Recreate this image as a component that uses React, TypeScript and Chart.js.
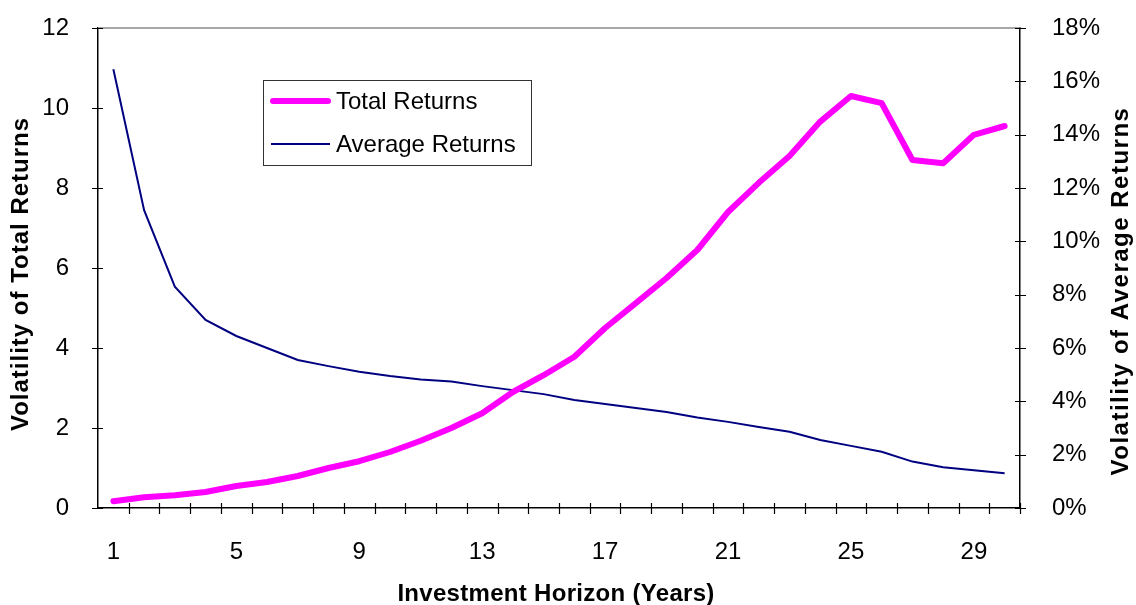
import React, { useEffect, useRef } from "react";
import { Chart, registerables } from "chart.js";

Chart.register(...registerables);

const horizons: string[] = Array.from({ length: 30 }, (_, i) => String(i + 1));

const totalReturns: number[] = [
  0.17, 0.27, 0.32, 0.4, 0.55, 0.65, 0.8, 1.0, 1.17, 1.4,
  1.68, 2.0, 2.37, 2.9, 3.32, 3.78, 4.5, 5.12, 5.75, 6.45,
  7.4, 8.13, 8.8, 9.66, 10.3, 10.12, 8.7, 8.62, 9.33, 9.55,
];

const averageReturns: number[] = [
  16.45, 11.17, 8.3, 7.05, 6.45, 6.0, 5.55, 5.32, 5.11, 4.95,
  4.82, 4.74, 4.57, 4.42, 4.27, 4.05, 3.9, 3.75, 3.6, 3.39,
  3.23, 3.04, 2.86, 2.55, 2.33, 2.11, 1.74, 1.53, 1.42, 1.3,
];

const seriesNames: string[] = ["Total Returns", "Average Returns"];
const leftTitle = "Volatility of Total Returns";
const rightTitle = "Volatility of Average Returns";
const bottomTitle = "Investment Horizon (Years)";

const FONT = "Arial, 'Liberation Sans', sans-serif";

const decorPlugin = {
  id: "decor",
  afterDraw(chart: any) {
    const ctx = chart.ctx;
    const ca = chart.chartArea;
    const xs = chart.scales.x;
    const yl = chart.scales.y;
    const yr = chart.scales.y1;
    ctx.save();
    // top border of plot area
    ctx.strokeStyle = "#8a8a8a";
    ctx.lineWidth = 1.5;
    ctx.beginPath();
    ctx.moveTo(ca.left, ca.top);
    ctx.lineTo(ca.right, ca.top);
    ctx.stroke();

    // crossing tick marks
    ctx.strokeStyle = "#000";
    ctx.lineWidth = 1.2;
    ctx.beginPath();
    const n = horizons.length;
    const step = (xs.right - xs.left) / n;
    for (let i = 1; i <= n; i++) {
      const px = Math.round(xs.left + i * step) + 0.5;
      ctx.moveTo(px, ca.bottom - 5);
      ctx.lineTo(px, ca.bottom + 6);
    }
    yl.ticks.forEach((t: any) => {
      const py = Math.round(yl.getPixelForValue(t.value)) + 0.5;
      ctx.moveTo(ca.left - 6, py);
      ctx.lineTo(ca.left + 5, py);
    });
    yr.ticks.forEach((t: any) => {
      const py = Math.round(yr.getPixelForValue(t.value)) + 0.5;
      ctx.moveTo(ca.right - 5, py);
      ctx.lineTo(ca.right + 6, py);
    });
    ctx.stroke();

    // axis titles
    ctx.fillStyle = "#000";
    ctx.font = `bold 24px ${FONT}`;
    ctx.textAlign = "center";
    ctx.textBaseline = "middle";
    ctx.save();
    ctx.letterSpacing = "1px";
    ctx.translate(21, 274);
    ctx.rotate(-Math.PI / 2);
    ctx.fillText(leftTitle, 0, 0);
    ctx.restore();
    ctx.save();
    ctx.letterSpacing = "1.5px";
    ctx.translate(1121, 291);
    ctx.rotate(-Math.PI / 2);
    ctx.fillText(rightTitle, 0, 0);
    ctx.restore();
    ctx.save();
    ctx.letterSpacing = "0.3px";
    ctx.fillText(bottomTitle, 556, 594);
    ctx.restore();

    // legend
    const bx = 263, by = 80, bw = 268, bh = 85;
    ctx.fillStyle = "#fff";
    ctx.fillRect(bx, by, bw, bh);
    ctx.strokeStyle = "#333";
    ctx.lineWidth = 1;
    ctx.strokeRect(bx + 0.5, by + 0.5, bw, bh);
    const rows = [101, 144];
    chart.data.datasets.forEach((ds: any, i: number) => {
      const y = rows[i];
      ctx.strokeStyle = ds.borderColor;
      ctx.lineWidth = ds.borderWidth;
      ctx.lineCap = i === 0 ? "round" : "butt";
      ctx.beginPath();
      ctx.moveTo(i === 0 ? 273 : 271, y);
      ctx.lineTo(i === 0 ? 328 : 330, y);
      ctx.stroke();
      ctx.fillStyle = "#000";
      ctx.font = `24px ${FONT}`;
      ctx.textAlign = "left";
      ctx.textBaseline = "middle";
      ctx.fillText(ds.label, 336, y + 1);
    });
    ctx.restore();
  },
};

export default function App() {
  const ref = useRef<HTMLCanvasElement | null>(null);
  useEffect(() => {
    if (!ref.current) return;
    const chart = new Chart(ref.current, {
      type: "line",
      data: {
        labels: horizons,
        datasets: [
          {
            label: seriesNames[0],
            data: totalReturns,
            borderColor: "#FF00FF",
            backgroundColor: "#FF00FF",
            borderWidth: 6,
            borderCapStyle: "round",
            borderJoinStyle: "round",
            pointRadius: 0,
            tension: 0,
            yAxisID: "y",
          },
          {
            label: seriesNames[1],
            data: averageReturns,
            borderColor: "#000080",
            backgroundColor: "#000080",
            borderWidth: 2,
            pointRadius: 0,
            tension: 0,
            yAxisID: "y1",
          },
        ],
      },
      options: {
        animation: false,
        responsive: false,
        maintainAspectRatio: false,
        layout: { padding: { top: 28, left: 0, right: 0, bottom: 0 } },
        plugins: { legend: { display: false }, tooltip: { enabled: false } },
        scales: {
          x: {
            type: "category",
            offset: true,
            grid: { display: false },
            border: { display: true, color: "#000", width: 1.5 },
            ticks: {
              autoSkip: false,
              maxRotation: 0,
              color: "#000",
              font: { size: 24, family: FONT },
              padding: 22,
              callback: (_v: any, i: number) => (i % 4 === 0 ? horizons[i] : ""),
            },
            afterFit: (s: any) => {
              s.height = 97;
              s.paddingLeft = 0;
              s.paddingRight = 0;
            },
          },
          y: {
            position: "left",
            min: 0,
            max: 12,
            grid: { display: false },
            border: { display: true, color: "#000", width: 1.5 },
            ticks: {
              stepSize: 2,
              color: "#000",
              font: { size: 24, family: FONT },
              padding: 21,
            },
            afterFit: (s: any) => {
              s.width = 98;
              s.paddingTop = 0;
              s.paddingBottom = 0;
            },
          },
          y1: {
            position: "right",
            min: 0,
            max: 18,
            grid: { display: false },
            border: { display: true, color: "#000", width: 1.5 },
            ticks: {
              stepSize: 2,
              color: "#000",
              font: { size: 24, family: FONT },
              padding: 24,
              callback: (v: any) => `${v}%`,
            },
            afterFit: (s: any) => {
              s.width = 116;
              s.paddingTop = 0;
              s.paddingBottom = 0;
            },
          },
        },
      },
      plugins: [decorPlugin],
    } as any);
    return () => chart.destroy();
  }, []);
  return (
    <div style={{ position: "fixed", left: 0, top: 0, width: 1136, height: 605, background: "#fff" }}>
      <canvas ref={ref} width={1136} height={605} style={{ display: "block" }} />
    </div>
  );
}
